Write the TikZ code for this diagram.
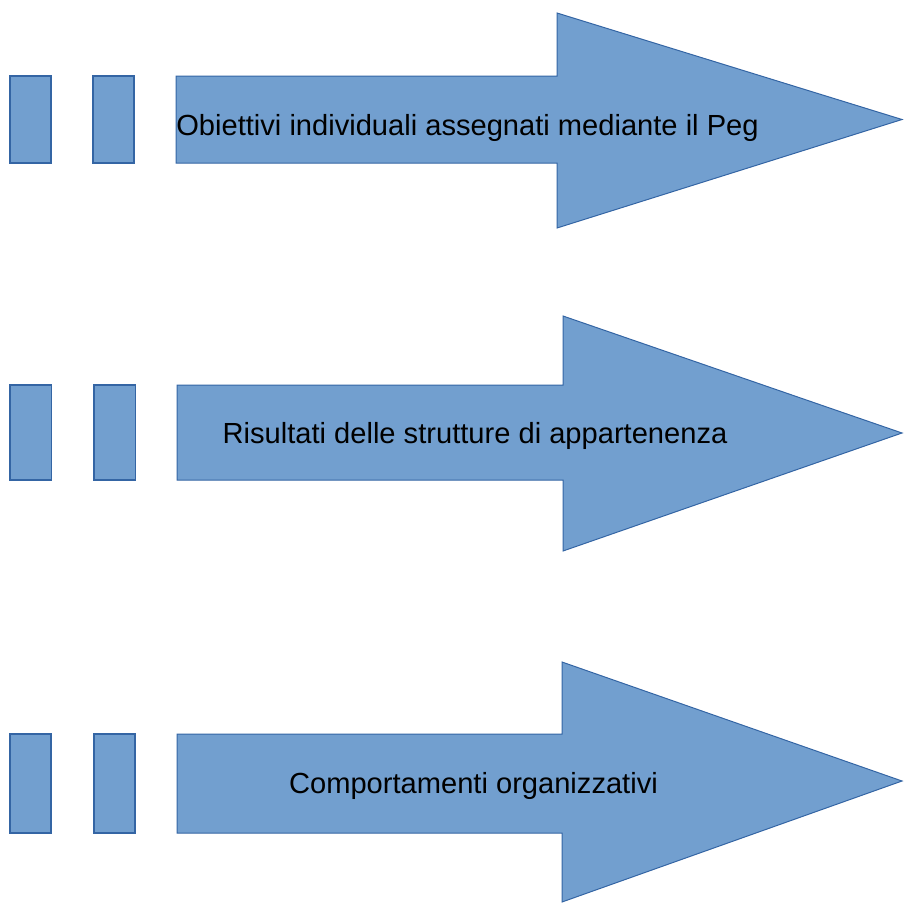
\documentclass[tikz,border=0pt]{standalone}
\usepackage{fontspec}
\setmainfont{Liberation Sans}
\usetikzlibrary{positioning}
\definecolor{shapefill}{HTML}{729FCF}
\definecolor{shapeline}{HTML}{3465A4}
\tikzset{block/.style = {fill=shapefill, draw=shapeline, line width=1.6pt}}
\tikzset{bigarrow/.style = {fill=shapefill, draw=shapeline, line width=1pt}}
\tikzset{arrowtext/.style = {anchor=base, inner sep=0, font=\fontsize{29.1}{35}\selectfont}}

\begin{document}
\begin{tikzpicture}[x=1pt, y=-1pt]
      \useasboundingbox (0,0) rectangle (904,902);
      % first row
      \draw [block] (10,76) rectangle (51,163);
      \draw [block] (93,76) rectangle (134,163);
      \draw [bigarrow] (176,76) -- (557,76) -- (557,13) -- (902,119.5) -- (557,228) -- (557,163) -- (176,163) -- cycle;
      \node (peg) [arrowtext] at (467.5,135) {Obiettivi individuali assegnati mediante il Peg};
      % second row
      \draw [block] (10,385) rectangle (51.5,480);
      \draw [block] (94,385) rectangle (135.5,480);
      \draw [bigarrow] (177,385) -- (563,385) -- (563,316) -- (902,433) -- (563,551) -- (563,480) -- (177,480) -- cycle;
      \node (risultati) [arrowtext] at (475,443) {Risultati delle strutture di appartenenza};
      % third row
      \draw [block] (10,734) rectangle (51,833);
      \draw [block] (94,734) rectangle (135,833);
      \draw [bigarrow] (177,734) -- (562,734) -- (562,662) -- (902,781) -- (562,902) -- (562,833) -- (177,833) -- cycle;
      \node (comportamenti) [arrowtext] at (473.5,793) {Comportamenti organizzativi};
    \end{tikzpicture}
\end{document}
